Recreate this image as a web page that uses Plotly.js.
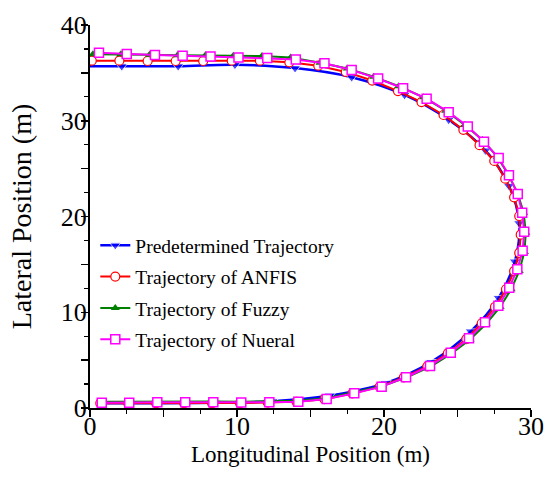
<!DOCTYPE html>
<html><head><meta charset="utf-8">
<script src="https://cdn.plot.ly/plotly-3.0.1.min.js"></script>
<style>html,body{margin:0;padding:0;background:#fff}#c{width:546px;height:483px}</style>
</head><body><div id="c"></div>
<script>
// Predetermined trajectory (first point is line start only)
const predX = [0, 2.16, 6.0, 9.86, 13.95, 17.8, 21.4, 24.4, 26.9, 28.5, 29.2, 28.9, 27.8, 25.9, 23.2, 20.1, 16.3, 12.4, 8.5, 4.6, 0.8];
const predY = [35.7, 35.7, 35.7, 35.85, 35.5, 34.55, 32.7, 30.1, 26.9, 23.2, 19.3, 15.3, 11.5, 8.0, 4.8, 2.6, 1.3, 0.7, 0.55, 0.5, 0.5];

// Trajectory of Nueral
const nnX = [0.61, 2.5, 4.42, 6.3, 8.2, 10.1, 12.06, 14.0, 15.95, 17.8, 19.6, 21.3, 22.9, 24.4, 25.7, 26.8, 27.8, 28.5, 29.1, 29.4, 29.54, 29.43, 29.07, 28.52, 27.78, 26.87, 25.78, 24.54, 23.13, 21.5, 19.84, 17.98, 16.1, 14.17, 12.2, 10.29, 8.39, 6.48, 4.58, 2.67, 0.8];
const nnY = [37.1, 36.96, 36.87, 36.8, 36.7, 36.6, 36.55, 36.4, 36.0, 35.3, 34.4, 33.4, 32.3, 30.9, 29.4, 27.8, 26.1, 24.3, 22.35, 20.4, 18.4, 16.43, 14.5, 12.56, 10.68, 8.95, 7.28, 5.78, 4.39, 3.21, 2.23, 1.54, 0.94, 0.66, 0.6, 0.58, 0.6, 0.6, 0.6, 0.55, 0.55];

// Trajectory of ANFIS
const anfisX = [0.12, 2.0, 3.92, 5.83, 7.7, 9.64, 11.56, 13.56, 15.53, 17.4, 19.2, 20.95, 22.55, 24.05, 25.4, 26.5, 27.5, 28.25, 28.85, 29.2, 29.3, 29.2, 28.85, 28.3, 27.55, 26.65, 25.6, 24.35, 22.95, 21.35, 19.7, 17.85, 15.95, 14.05, 12.1, 10.2, 8.3, 6.4, 4.5, 2.6, 0.7];
const anfisY = [36.27, 36.27, 36.24, 36.24, 36.24, 36.27, 36.27, 36.1, 35.75, 35.1, 34.2, 33.1, 31.95, 30.6, 29.05, 27.45, 25.8, 23.95, 22.0, 20.05, 18.1, 16.2, 14.3, 12.4, 10.55, 8.85, 7.2, 5.72, 4.35, 3.2, 2.22, 1.52, 0.92, 0.64, 0.55, 0.52, 0.52, 0.52, 0.5, 0.5, 0.5];

// Trajectory of Fuzzy
const fuzzyX = [0.2, 2.1, 4.05, 5.95, 7.85, 9.75, 11.7, 13.65, 15.65, 17.5, 19.3, 21.0, 22.7, 24.2, 25.5, 26.7, 27.7, 28.45, 29.1, 29.5, 29.65, 29.55, 29.2, 28.65, 27.9, 26.95, 25.85, 24.6, 23.2, 21.55, 19.9, 18.0, 16.1, 14.15, 12.2, 10.3, 8.4, 6.5, 4.6, 2.7, 0.8];
const fuzzyY = [36.95, 36.95, 36.9, 36.85, 36.85, 36.8, 36.75, 36.6, 36.05, 35.45, 34.6, 33.6, 32.45, 31.05, 29.55, 28.0, 26.25, 24.4, 22.4, 20.4, 18.3, 16.3, 14.3, 12.4, 10.55, 8.8, 7.15, 5.7, 4.35, 3.2, 2.3, 1.62, 1.02, 0.75, 0.68, 0.66, 0.68, 0.68, 0.68, 0.64, 0.64];

const names = ["Predetermined Trajectory", "Trajectory of ANFIS", "Trajectory of Fuzzy", "Trajectory of Nueral"];
const xTitle = "Longitudinal Position (m)";
const yTitle = "Lateral Position (m)";
const xTicks = [0, 5, 10, 15, 20, 25, 30];
const xLabels = ["0", "", "10", "", "20", "", "30"];
const yTicks = [0, 5, 10, 15, 20, 25, 30, 35, 40];
const yLabels = ["0", "", "10", "", "20", "", "30", "", "40"];

const predSizes = predX.map((_, i) => i === 0 ? 0 : 10);

const traces = [
  {x: predX, y: predY, name: names[0], legendgroup: 'a', mode: 'lines+markers',
   line: {color: '#0000ff', width: 2.5, shape: 'spline'},
   marker: {symbol: 'triangle-down', color: '#0000ff', size: predSizes}},
  {x: anfisX, y: anfisY, name: names[1], legendgroup: 'b', mode: 'lines+markers',
   line: {color: '#ff0000', width: 2},
   marker: {symbol: 'circle', color: '#ffffff', size: 9, line: {color: '#ff0000', width: 1.2}}},
  {x: fuzzyX, y: fuzzyY, name: names[2], legendgroup: 'c', mode: 'lines+markers',
   line: {color: '#008000', width: 2},
   marker: {symbol: 'triangle-up', color: '#008000', size: 8}},
  {x: nnX, y: nnY, name: names[3], legendgroup: 'd', mode: 'lines+markers',
   line: {color: '#ff00ff', width: 2},
   marker: {symbol: 'square', color: '#ffffff', size: 9, line: {color: '#ff00ff', width: 1.5}}}
];

const font = {family: '"Liberation Serif", "Times New Roman", serif', color: '#000'};
const layout = {
  width: 546, height: 483,
  margin: {l: 90, r: 15, t: 25, b: 74.5},
  paper_bgcolor: '#fff', plot_bgcolor: '#fff',
  font: font,
  showlegend: true,
  legend: {x: 0.012, y: 0.475, xanchor: 'left', yanchor: 'top', bgcolor: 'rgba(0,0,0,0)',
           font: {family: font.family, size: 19.5, color: '#000'}, tracegroupgap: 3, traceorder: 'grouped'},
  xaxis: {range: [0, 30], tickvals: xTicks, ticktext: xLabels, ticks: 'outside', ticklen: 7, tickwidth: 1.5,
          tickcolor: '#000', showline: true, linecolor: '#000', linewidth: 2, showgrid: false, zeroline: false,
          tickfont: {family: font.family, size: 26, color: '#000'}, ticklabelstandoff: -13,
          minor: {dtick: 2.5, ticks: 'outside', ticklen: 4, tickwidth: 1.2, tickcolor: '#000', showgrid: false}},
  yaxis: {range: [0, 40], tickvals: yTicks, ticktext: yLabels, ticks: 'outside', ticklen: 7, tickwidth: 1.5,
          tickcolor: '#000', showline: true, linecolor: '#000', linewidth: 2, showgrid: false, zeroline: false,
          tickfont: {family: font.family, size: 26, color: '#000'}, ticklabelstandoff: -11,
          minor: {dtick: 2.5, ticks: 'outside', ticklen: 4, tickwidth: 1.2, tickcolor: '#000', showgrid: false},
          title: {text: yTitle, font: {family: font.family, size: 28, color: '#000'}, standoff: 21}},
  annotations: [{text: xTitle, xref: 'paper', yref: 'paper', x: 0.5, y: -0.1213, xanchor: 'center', yanchor: 'middle',
                 showarrow: false, font: {family: font.family, size: 23, color: '#000'}}]
};
Plotly.newPlot('c', traces, layout, {displayModeBar: false, staticPlot: true});
</script></body></html>
